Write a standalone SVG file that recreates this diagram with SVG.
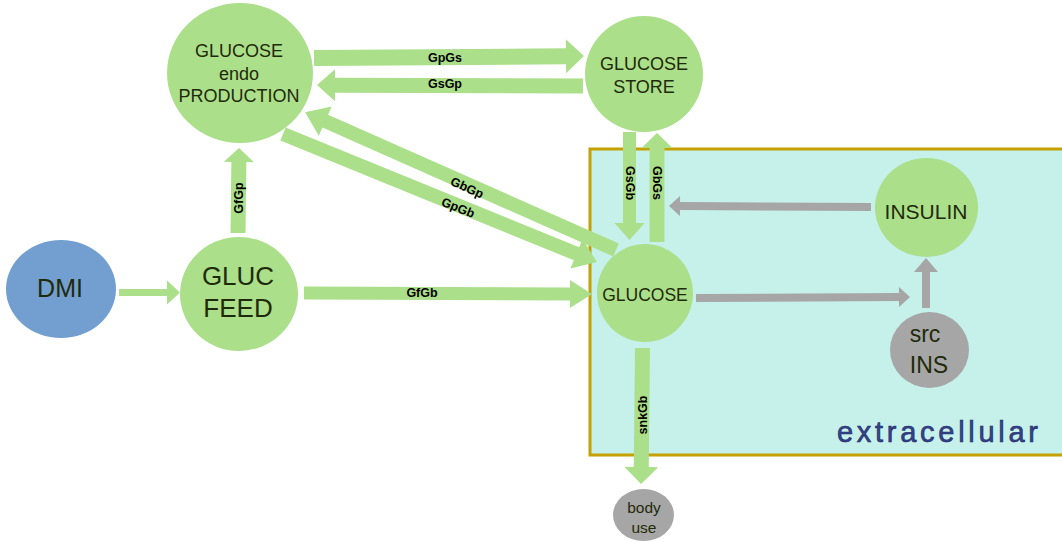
<svg xmlns="http://www.w3.org/2000/svg" width="1062" height="542" viewBox="0 0 1062 542">
<style>
.g{fill:#abdf8a}
.gray{fill:#a6a6a6}
.blue{fill:#729fcf}
.t{font-family:"Liberation Sans",Arial,sans-serif;fill:#1f2a0a;text-anchor:middle}
.el{font-family:"Liberation Sans",Arial,sans-serif;font-weight:bold;font-size:12.5px;fill:#000;text-anchor:middle}
</style>
<rect id="extracellular" x="590" y="149" width="476" height="306" fill="#c6f0ea" stroke="#c4a000" stroke-width="3"/>
<text x="837" y="442" font-family="Liberation Sans,Arial,sans-serif" font-size="29" fill="#34428c" stroke="#1f2a66" stroke-width="0.6" textLength="201" lengthAdjust="spacing">extracellular</text>
<g id="connectors">
<polygon class="g" transform="translate(314,58) rotate(-0.4)" points="0,-8 252,-8 252,-17 270,0 252,17 252,8 0,8"/>
<polygon class="g" transform="translate(583,86) rotate(180.2)" points="0,-7.5 248,-7.5 248,-16 266,0 248,16 248,7.5 0,7.5"/>
<polygon class="g" transform="translate(616,250) rotate(203.9)" points="0,-7 318,-7 318,-16 340,0 318,16 318,7 0,7"/>
<polygon class="g" transform="translate(283,134) rotate(22.2)" points="0,-7 317,-7 317,-16 339,0 317,16 317,7 0,7"/>
<polygon class="g" transform="translate(238,233) rotate(-89.3)" points="0,-7.5 71,-7.5 71,-15 85,0 71,15 71,7.5 0,7.5"/>
<polygon class="g" transform="translate(119,292.5)" points="0,-3.5 48,-3.5 48,-12 61,0 48,12 48,3.5 0,3.5"/>
<polygon class="g" transform="translate(304,293) rotate(0.2)" points="0,-6.5 266,-6.5 266,-14 288,0 266,14 266,6.5 0,6.5"/>
<polygon class="g" transform="translate(629.5,132) rotate(90)" points="0,-6.5 91,-6.5 91,-15 108,0 91,15 91,6.5 0,6.5"/>
<polygon class="g" transform="translate(657,242) rotate(-90)" points="0,-7.5 94,-7.5 94,-15.5 109,0 94,15.5 94,7.5 0,7.5"/>
<polygon class="gray" transform="translate(871,207) rotate(180.3)" points="0,-4 191,-4 191,-10 202,0 191,10 191,4 0,4"/>
<polygon class="gray" transform="translate(696,298) rotate(-0.3)" points="0,-4 203,-4 203,-10 214,0 203,10 203,4 0,4"/>
<polygon class="gray" transform="translate(926,308) rotate(-90)" points="0,-4 36,-4 36,-12 50,0 36,12 36,4 0,4"/>
<polygon class="g" transform="translate(642.5,348) rotate(90.6)" points="0,-7.5 119,-7.5 119,-17 136,0 119,17 119,7.5 0,7.5"/>
<text class="el" x="445" y="62">GpGs</text>
<text class="el" x="445" y="88">GsGp</text>
<text class="el" transform="translate(467,188) rotate(24)" dy="4">GbGp</text>
<text class="el" transform="translate(458,208) rotate(22)" dy="4">GpGb</text>
<text class="el" transform="translate(239,198) rotate(-90)" dy="4">GfGp</text>
<text class="el" x="422" y="297">GfGb</text>
<text class="el" transform="translate(630,183) rotate(90)" dy="4">GsGb</text>
<text class="el" transform="translate(657,183) rotate(90)" dy="4">GbGs</text>
<text class="el" transform="translate(643,415) rotate(-90)" dy="4">snkGb</text>
</g>
<g id="node-production">
<ellipse class="g" cx="240" cy="73" rx="73" ry="70"/>
<text class="t" font-size="18"><tspan x="239" y="57">GLUCOSE</tspan><tspan x="239" y="80">endo</tspan><tspan x="239" y="102">PRODUCTION</tspan></text>
</g>
<g id="node-store">
<ellipse class="g" cx="644" cy="74" rx="59" ry="58"/>
<text class="t" font-size="18"><tspan x="644" y="70">GLUCOSE</tspan><tspan x="644" y="93">STORE</tspan></text>
</g>
<g id="node-glucose">
<ellipse class="g" cx="645" cy="293" rx="48" ry="49"/>
<text class="t" font-size="17.5" x="645" y="301">GLUCOSE</text>
</g>
<g id="node-insulin">
<ellipse class="g" cx="926.5" cy="207.5" rx="51.5" ry="49.5"/>
<text class="t" font-size="21" x="926" y="219">INSULIN</text>
</g>
<g id="node-srcins">
<ellipse class="gray" cx="929.5" cy="350" rx="39.5" ry="38"/>
<text class="t" font-size="23"><tspan x="925" y="342">src</tspan><tspan x="929" y="373">INS</tspan></text>
</g>
<g id="node-body">
<ellipse class="gray" cx="643.5" cy="515" rx="30.5" ry="26"/>
<text class="t" font-size="15.5"><tspan x="644" y="513">body</tspan><tspan x="644" y="533">use</tspan></text>
</g>
<g id="node-dmi">
<ellipse class="blue" cx="61" cy="289" rx="55" ry="49"/>
<text class="t" font-size="25" x="60" y="297">DMI</text>
</g>
<g id="node-feed">
<ellipse class="g" cx="239" cy="294" rx="59" ry="57"/>
<text class="t" font-size="26"><tspan x="238" y="285">GLUC</tspan><tspan x="238" y="317">FEED</tspan></text>
</g>
</svg>
